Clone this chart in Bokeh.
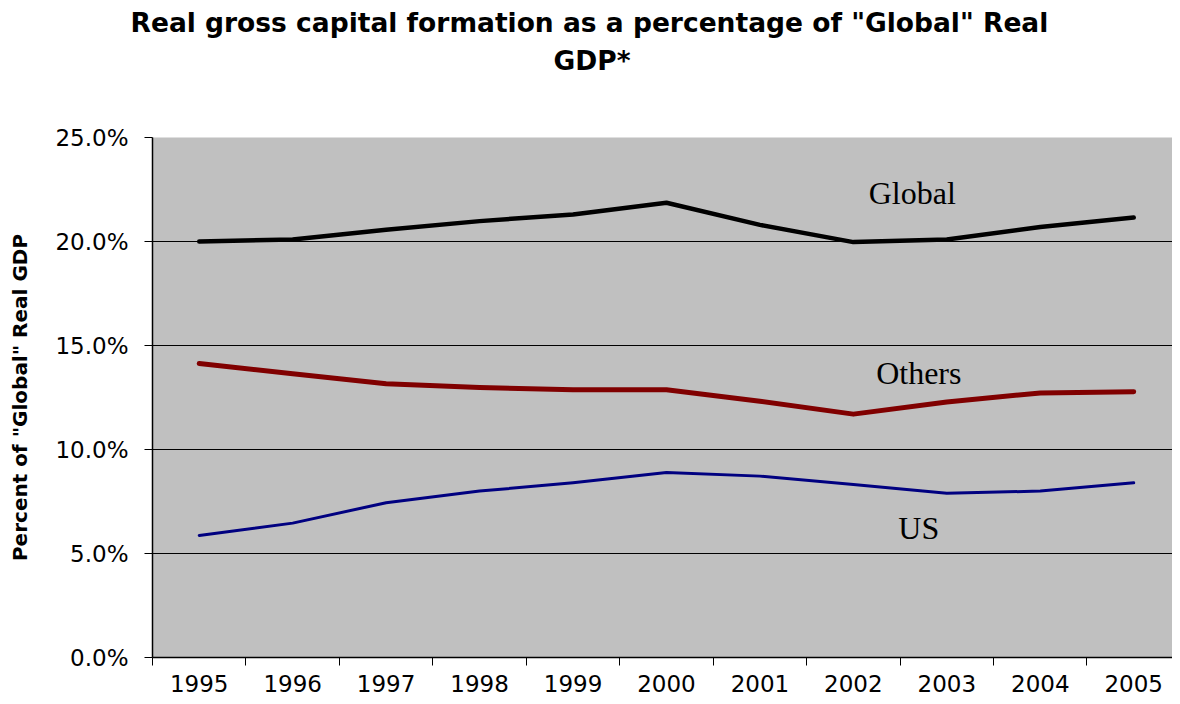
from bokeh.plotting import figure
from bokeh.models import Range1d, FixedTicker, PrintfTickFormatter, Title
from bokeh.core.properties import value
from bokeh.embed import file_html
from bokeh.resources import INLINE

years = [1995, 1996, 1997, 1998, 1999, 2000, 2001, 2002, 2003, 2004, 2005]
year_labels = [str(y) for y in years]
global_pct = [20.0, 20.1, 20.57, 20.98, 21.3, 21.86, 20.8, 19.97, 20.1, 20.7, 21.15]
others_pct = [14.13, 13.64, 13.16, 12.98, 12.87, 12.87, 12.32, 11.7, 12.28, 12.72, 12.78]
us_pct = [5.87, 6.46, 7.44, 8.0, 8.4, 8.89, 8.72, 8.32, 7.9, 8.0, 8.4]
y_ticks = [0, 5, 10, 15, 20, 25]
title_lines = ['Real gross capital formation as a percentage of "Global" Real', 'GDP*']

SANS = "DejaVu Sans"
SERIF = "Liberation Serif"

p = figure(width=1172, height=696, output_backend="svg", toolbar_location=None,
           x_range=Range1d(1994.5, 2005.415), y_range=Range1d(0, 25),
           min_border_left=152, min_border_right=0, min_border_top=137,
           min_border_bottom=39)
p.background_fill_color = "#C0C0C0"
p.border_fill_color = "white"
p.outline_line_color = None

# title: spacer nearest the plot, then line 2, then line 1 on top
spacer = Title(text=" ", text_font=SANS, text_font_size="20px", standoff=34)
t2 = Title(text=title_lines[1], align="left", offset=401, standoff=4,
           text_font=SANS, text_font_size="26.5px", text_font_style="bold",
           text_color="black")
t1 = Title(text=title_lines[0], align="left", offset=-22, standoff=6,
           text_font=SANS, text_font_size="26.5px", text_font_style="bold",
           text_color="black")
p.add_layout(spacer, "above")
p.add_layout(t2, "above")
p.add_layout(t1, "above")

# x axis
p.xaxis.ticker = FixedTicker(ticks=years, minor_ticks=[y + 0.5 for y in [1994] + years])
p.xaxis.major_label_overrides = {y: l for y, l in zip(years, year_labels)}
p.xaxis.major_tick_out = 0
p.xaxis.major_tick_in = 0
p.xaxis.minor_tick_out = 8
p.xaxis.minor_tick_in = 0
p.xaxis.minor_tick_line_color = "black"
p.xaxis.axis_line_color = "black"
p.xaxis.axis_line_width = 1.5
p.xaxis.major_label_text_font = SANS
p.xaxis.major_label_text_font_size = "23px"
p.xaxis.major_label_text_color = "black"
p.xaxis.major_label_standoff = 9

# y axis
p.yaxis.ticker = FixedTicker(ticks=y_ticks)
p.yaxis.formatter = PrintfTickFormatter(format="%.1f%%")
p.yaxis.major_tick_out = 8
p.yaxis.major_tick_in = 0
p.yaxis.minor_tick_out = 0
p.yaxis.minor_tick_in = 0
p.yaxis.axis_line_color = "black"
p.yaxis.axis_line_width = 1.5
p.yaxis.major_tick_line_color = "black"
p.yaxis.major_label_text_font = SANS
p.yaxis.major_label_text_font_size = "23px"
p.yaxis.major_label_text_color = "black"
p.yaxis.major_label_standoff = 16
p.yaxis.axis_label = 'Percent of "Global" Real GDP'
p.yaxis.axis_label_text_font = SANS
p.yaxis.axis_label_text_font_size = "20px"
p.yaxis.axis_label_text_font_style = "bold"
p.yaxis.axis_label_text_color = "black"
p.yaxis.axis_label_standoff = 20

p.xgrid.grid_line_color = None
p.ygrid.ticker = FixedTicker(ticks=[5, 10, 15, 20])
p.ygrid.grid_line_color = "black"
p.ygrid.grid_line_width = 1

p.line(years, global_pct, line_color="black", line_width=4.5,
       line_join="round", line_cap="round")
p.line(years, others_pct, line_color="#800000", line_width=5,
       line_join="round", line_cap="round")
p.line(years, us_pct, line_color="#000080", line_width=3,
       line_join="round", line_cap="round")

p.text(x=[2002.63, 2002.70, 2002.70], y=[22.31, 13.70, 6.25],
       text=["Global", "Others", "US"], text_font=value(SERIF),
       text_font_size="32px", text_color="black",
       text_align="center", text_baseline="middle")

open("out.html", "w").write(file_html(p, INLINE))
